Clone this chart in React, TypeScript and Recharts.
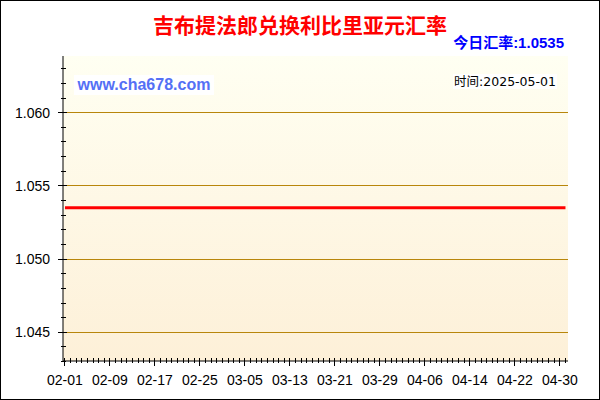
import React from 'react';
import { LineChart, Line, XAxis, YAxis, ReferenceLine, ReferenceArea } from 'recharts';

const dates = [
  '02-01','02-02','02-03','02-04','02-05','02-06','02-07','02-08','02-09','02-10',
  '02-11','02-12','02-13','02-14','02-15','02-16','02-17','02-18','02-19','02-20',
  '02-21','02-22','02-23','02-24','02-25','02-26','02-27','02-28',
  '03-01','03-02','03-03','03-04','03-05','03-06','03-07','03-08','03-09','03-10',
  '03-11','03-12','03-13','03-14','03-15','03-16','03-17','03-18','03-19','03-20',
  '03-21','03-22','03-23','03-24','03-25','03-26','03-27','03-28','03-29','03-30','03-31',
  '04-01','04-02','04-03','04-04','04-05','04-06','04-07','04-08','04-09','04-10',
  '04-11','04-12','04-13','04-14','04-15','04-16','04-17','04-18','04-19','04-20',
  '04-21','04-22','04-23','04-24','04-25','04-26','04-27','04-28','04-29','04-30',
  '05-01',
];

const rates = [
  1.0535,1.0535,1.0535,1.0535,1.0535,1.0535,1.0535,1.0535,1.0535,1.0535,
  1.0535,1.0535,1.0535,1.0535,1.0535,1.0535,1.0535,1.0535,1.0535,1.0535,
  1.0535,1.0535,1.0535,1.0535,1.0535,1.0535,1.0535,1.0535,
  1.0535,1.0535,1.0535,1.0535,1.0535,1.0535,1.0535,1.0535,1.0535,1.0535,
  1.0535,1.0535,1.0535,1.0535,1.0535,1.0535,1.0535,1.0535,1.0535,1.0535,
  1.0535,1.0535,1.0535,1.0535,1.0535,1.0535,1.0535,1.0535,1.0535,1.0535,1.0535,
  1.0535,1.0535,1.0535,1.0535,1.0535,1.0535,1.0535,1.0535,1.0535,1.0535,
  1.0535,1.0535,1.0535,1.0535,1.0535,1.0535,1.0535,1.0535,1.0535,1.0535,
  1.0535,1.0535,1.0535,1.0535,1.0535,1.0535,1.0535,1.0535,1.0535,1.0535,
  1.0535,
];

const xMajorTicks = [0, 8, 16, 24, 32, 40, 48, 56, 64, 72, 80, 88];
const yMajorTicks = [1.045, 1.05, 1.055, 1.06];
const yAllTicks = [
  1.043, 1.044, 1.045, 1.046, 1.047, 1.048, 1.049, 1.05, 1.051, 1.052, 1.053,
  1.054, 1.055, 1.056, 1.057, 1.058, 1.059, 1.06, 1.061, 1.062, 1.063,
];
const yDomain = [1.04304, 1.06387];
const xDomain = [-0.35, 89.45];

const titleText = '吉布提法郎兑换利比里亚元汇率';
const todayText = '今日汇率:1.0535';
const siteText = 'www.cha678.com';
const timeText = '时间:2025-05-01';

const data = dates.map((d, i) => ({ i, d, v: rates[i] }));
const xAllTicks = dates.map((_, i) => i);

const axisFont = '"Liberation Sans", Arial, sans-serif';
const isMajorY = (v: number) => yMajorTicks.some((t) => Math.abs(t - v) < 1e-7);

const LeftTick = (props: any) => {
  const { x, y, payload } = props;
  const major = isMajorY(payload.value);
  return (
    <g>
      <line x1={major ? x - 5 : x - 2} x2={major ? x + 4 : x + 3} y1={y} y2={y} stroke="#000" shapeRendering="crispEdges" />
      {major && (
        <text x={x - 13} y={y} dy={5} textAnchor="end" fontSize={14} fontFamily={axisFont} fill="#000">
          {payload.value.toFixed(3)}
        </text>
      )}
    </g>
  );
};

const RightTick = (props: any) => {
  const { x, y, payload } = props;
  const major = isMajorY(payload.value);
  return <line x1={major ? x - 5 : x - 2} x2={x} y1={y} y2={y} stroke="#000" shapeRendering="crispEdges" />;
};

const BottomTick = (props: any) => {
  const { x, y, payload } = props;
  const major = xMajorTicks.includes(payload.value);
  return (
    <g>
      <line x1={x} x2={x} y1={y - 3} y2={major ? y + 5 : y + 2} stroke="#000" shapeRendering="crispEdges" />
      {major && (
        <text x={x} y={y + 24} textAnchor="middle" fontSize={14} fontFamily={axisFont} fill="#000">
          {dates[payload.value]}
        </text>
      )}
    </g>
  );
};

const TopTick = (props: any) => {
  const { x, y } = props;
  return <line x1={x} x2={x} y1={y} y2={y + 4} stroke="#000" shapeRendering="crispEdges" />;
};

export default function App() {
  return (
    <div style={{ position: 'absolute', left: 0, top: 0, width: 600, height: 400, background: '#fff' }}>
      <LineChart width={600} height={400} data={data} margin={{ top: 56, right: 32, bottom: 0, left: 0 }}>
        <defs>
          <linearGradient id="bgGrad" x1="0" y1="0" x2="0" y2="1">
            <stop offset="0" stopColor="#fffff2" />
            <stop offset="1" stopColor="#fdf0d8" />
          </linearGradient>
        </defs>
        <ReferenceArea
          x1={xDomain[0]}
          x2={xDomain[1]}
          y1={yDomain[0]}
          y2={yDomain[1]}
          fill="url(#bgGrad)"
          fillOpacity={1}
          stroke="none"
          ifOverflow="extendDomain"
        />
        {yMajorTicks.map((t) => (
          <ReferenceLine key={t} y={t} stroke="#b8860b" strokeWidth={1} shapeRendering="crispEdges" />
        ))}
        <XAxis
          dataKey="i"
          type="number"
          domain={xDomain}
          ticks={xAllTicks}
          interval={0}
          height={39}
          tickSize={0}
          tickMargin={0}
          tickLine={false}
          axisLine={{ stroke: '#000' }}
          tick={BottomTick}
          allowDataOverflow
        />
        <XAxis
          xAxisId="t"
          orientation="top"
          dataKey="i"
          type="number"
          domain={xDomain}
          ticks={xAllTicks}
          interval={0}
          height={0}
          tickSize={0}
          tickMargin={0}
          tickLine={false}
          axisLine={{ stroke: '#000' }}
          tick={TopTick}
          allowDataOverflow
        />
        <YAxis
          type="number"
          domain={yDomain}
          ticks={yAllTicks}
          interval={0}
          width={63}
          tickSize={0}
          tickMargin={0}
          tickLine={false}
          axisLine={{ stroke: '#000' }}
          tick={LeftTick}
          allowDataOverflow
        />
        <YAxis
          yAxisId="r"
          orientation="right"
          type="number"
          domain={yDomain}
          ticks={yAllTicks}
          interval={0}
          width={0}
          tickSize={0}
          tickMargin={0}
          tickLine={false}
          axisLine={{ stroke: '#000' }}
          tick={RightTick}
          allowDataOverflow
        />
        <Line
          dataKey="v"
          type="linear"
          stroke="#ff0000"
          strokeWidth={3}
          dot={false}
          activeDot={false}
          isAnimationActive={false}
        />
      </LineChart>
      <div
        style={{
          position: 'absolute', left: 0, top: 14, width: 600, textAlign: 'center',
          fontFamily: '"Noto Sans CJK SC", sans-serif', fontWeight: 'bold', fontSize: 21,
          lineHeight: '21px', color: '#ff0000',
        }}
      >
        {titleText}
      </div>
      <div
        style={{
          position: 'absolute', right: 36, top: 35, whiteSpace: 'nowrap',
          fontFamily: '"Liberation Sans", "Noto Sans CJK SC", sans-serif', fontWeight: 'bold', fontSize: 15,
          lineHeight: '15px', color: '#0000ff',
        }}
      >
        {todayText}
      </div>
      <div
        style={{
          position: 'absolute', left: 74, top: 75, width: 140, height: 20, background: '#fff',
          textAlign: 'center', fontFamily: '"Liberation Sans", Arial, sans-serif', fontWeight: 'bold',
          fontSize: 16, lineHeight: '20px', color: '#5470f5', whiteSpace: 'nowrap',
        }}
      >
        {siteText}
      </div>
      <div
        style={{
          position: 'absolute', left: 453, top: 74, width: 104, height: 15, background: '#fff',
          textAlign: 'center', fontFamily: '"DejaVu Sans", "Noto Sans CJK SC", sans-serif',
          fontSize: 12.5, lineHeight: '15px', color: '#000', whiteSpace: 'nowrap',
        }}
      >
        {timeText}
      </div>
      <div
        style={{
          position: 'absolute', left: 0, top: 0, width: 600, height: 400, boxSizing: 'border-box',
          border: '1px solid #000', pointerEvents: 'none',
        }}
      />
    </div>
  );
}
